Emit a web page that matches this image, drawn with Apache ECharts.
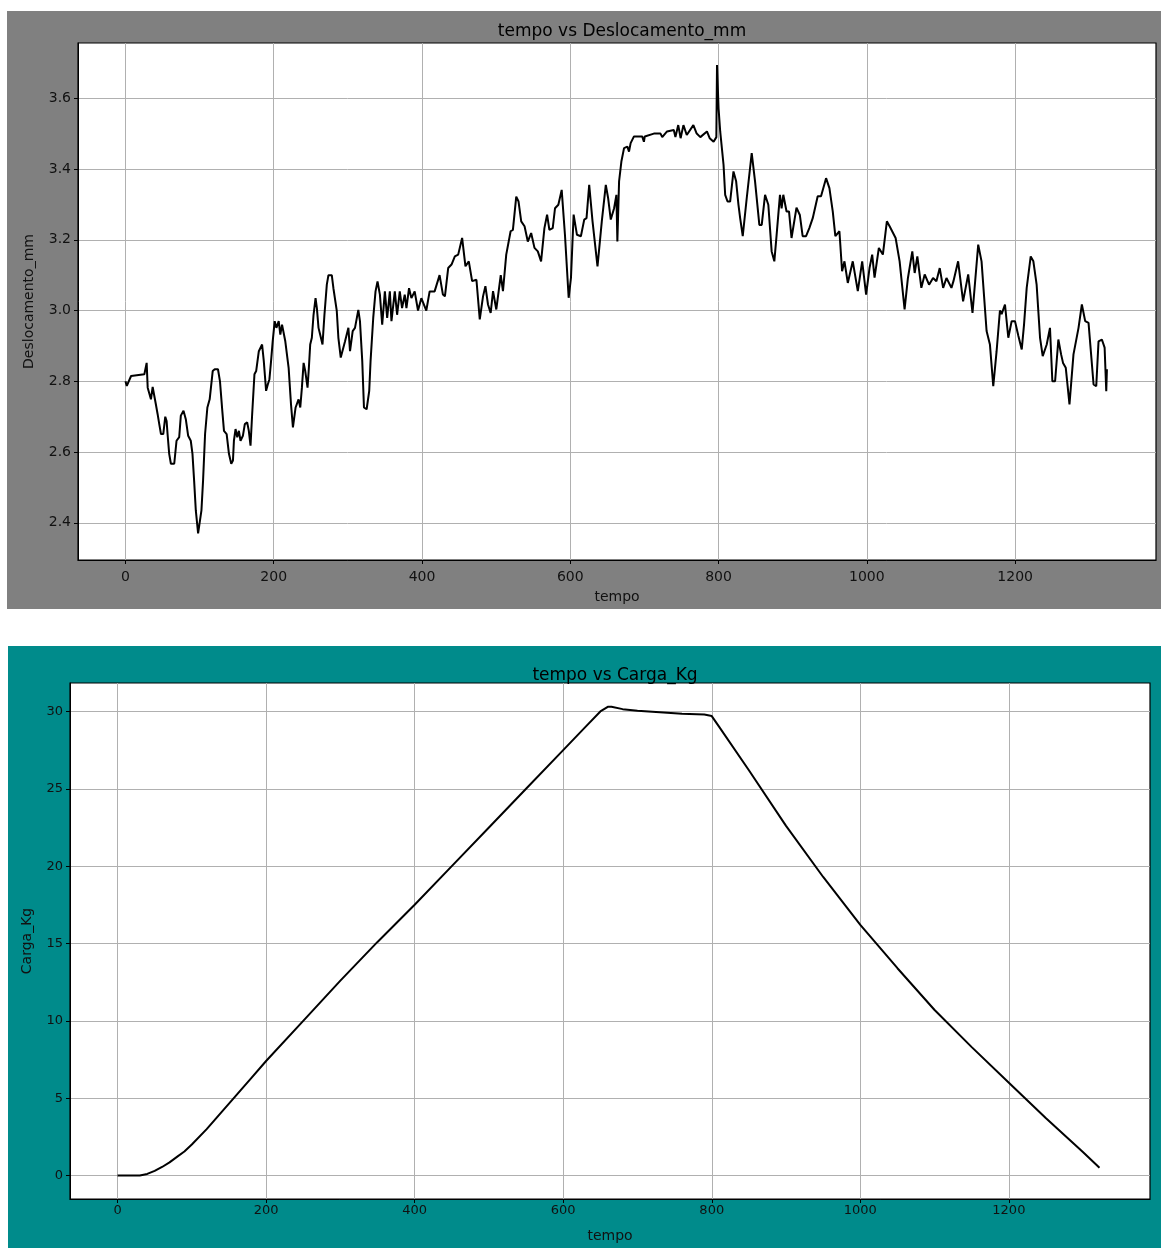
<!DOCTYPE html>
<html>
<head>
<meta charset="utf-8">
<script src="https://cdn.jsdelivr.net/npm/echarts@6/dist/echarts.min.js"></script>
<style>
  body { margin: 0; background: #fff; width: 1161px; height: 1248px; position: relative; overflow: hidden; }
  #deslocChart { position: absolute; left: 7px; top: 11px; width: 1154px; height: 598px; }
  #cargaChart { position: absolute; left: 8px; top: 646px; width: 1153px; height: 602px; }
</style>
</head>
<body>
<div id="deslocChart"></div>
<div id="cargaChart"></div>
<script>
// tempo vs Deslocamento_mm
const deslocTempo = [0, 1.8, 7.6, 25.5, 28.6, 30, 32, 34.4, 36.7, 41, 43.4, 45.6, 47.9, 51, 53.7, 55.5, 56.8, 59, 61.3, 65.8,
  68.9, 72.5, 74.7, 78.3, 81.4, 84.6, 88.1, 90.4, 92.6, 94.9, 98, 99.3, 102.5, 104.7, 107.4, 110.5, 113.6, 115.9, 117.7, 120.4,
  124.8, 127.5, 130.6, 132.9, 136.5, 139.6, 142.7, 145, 146.3, 148.5, 150.8, 153, 155.2, 158.4, 161, 164.2, 166.4, 168.7, 170.9, 174,
  176.3, 179.9, 184.3, 186.6, 189.7, 191.9, 194.2, 196.4, 198.6, 201.3, 203.6, 206.7, 208.9, 211.2, 215.6, 220.1, 223.3, 225.9, 229.5, 233.5,
  235.8, 238, 240.3, 242.5, 245.6, 247.4, 249.2, 251.4, 253.7, 256.4, 258.2, 260.4, 262.6, 265.8, 268.4, 271.6, 273.8, 278.3, 280.5, 285,
  287.2, 290.4, 292.6, 296.2, 300.7, 302.9, 306.5, 309.6, 314.1, 316.3, 319.4, 321.7, 325.3, 328.8, 330.6, 334.2, 337.3, 340, 343.2, 346.3,
  349.9, 353, 356.6, 358.8, 363.3, 366.4, 370, 373.1, 376.7, 379, 382.5, 385.7, 390.1, 394.6, 399.1, 405.8, 410.3, 417, 423.7, 428.2,
  430.9, 435.3, 439.8, 444.3, 448.8, 454.1, 458.6, 463.1, 467.6, 473.4, 477.9, 482.3, 485.5, 489, 492.6, 495.8, 500.2, 506.2, 509.2, 513.6,
  519.5, 522.6, 527.1, 530.2, 533.8, 538.3, 542.7, 547.2, 551.7, 556.2, 560.6, 565.1, 568.7, 571.8, 576.3, 579.4, 583.9, 588.4, 592.8, 597.8,
  600.9, 604.5, 609, 614.3, 618.8, 621.9, 625.5, 630, 636.7, 642.5, 647.9, 651, 654.6, 659.1, 662.2, 663.5, 665.8, 668.9, 672.5, 677,
  679.2, 681.4, 685.9, 697, 699.3, 700.5, 712.7, 721.7, 724, 730.5, 739.6, 741.8, 745.6, 748.8, 752.6, 757.1, 766, 770.5, 775.4, 784.3,
  788, 793.3, 797, 797.9, 800, 802.2, 806.7, 808.9, 812.1, 815.6, 820.1, 823.7, 826.8, 829.1, 832.6, 838, 844.7, 849.2, 855, 858.2,
  862.7, 867.1, 871.6, 875.2, 878.3, 882.8, 885, 887.3, 891.7, 895, 898.4, 905.1, 909.6, 913.4, 918, 922.4, 927, 933.7, 938.2, 945,
  949.5, 954, 957.5, 963, 966.6, 969.8, 974.3, 981, 987.8, 993.7, 999, 1003.6, 1007.2, 1010.4, 1016.2, 1021.6, 1027, 1030.7, 1038.8, 1044.2,
  1050.9, 1055.4, 1061.3, 1064.5, 1068.1, 1073.5, 1078, 1083.9, 1089.3, 1093.8, 1098.3, 1102.9, 1107.4, 1114.1, 1116.8, 1123.1, 1129.8, 1136.7, 1142.5, 1150.2,
  1154.7, 1161.5, 1166, 1170.5, 1175, 1179.5, 1181.8, 1186.3, 1190.8, 1195.3, 1199.8, 1204.4, 1208.9, 1212, 1215.6, 1221, 1224.6, 1229, 1233.6, 1237.2,
  1242.6, 1247, 1250.2, 1253.9, 1258.3, 1262, 1264.6, 1268.3, 1273.3, 1278.7, 1285.5, 1290, 1294.5, 1299, 1305.8, 1309.4, 1312.5, 1317, 1320.7, 1322.9,
  1323.8];
const deslocMM = [2.80, 2.787, 2.815, 2.82, 2.852, 2.782, 2.787, 2.749, 2.784, 2.735, 2.707, 2.679, 2.651, 2.651, 2.70, 2.688, 2.651, 2.595, 2.567, 2.567,
  2.632, 2.642, 2.703, 2.717, 2.693, 2.646, 2.632, 2.595, 2.52, 2.435, 2.37, 2.365, 2.435, 2.52, 2.651, 2.726, 2.749, 2.749, 2.829, 2.834,
  2.834, 2.80, 2.717, 2.66, 2.651, 2.595, 2.567, 2.576, 2.632, 2.665, 2.642, 2.66, 2.632, 2.646, 2.679, 2.684, 2.66, 2.618, 2.707, 2.82,
  2.829, 2.885, 2.904, 2.857, 2.773, 2.79, 2.806, 2.857, 2.913, 2.97, 2.951, 2.97, 2.932, 2.96, 2.913, 2.838, 2.735, 2.67, 2.726, 2.749,
  2.726, 2.782, 2.852, 2.829, 2.782, 2.838, 2.904, 2.923, 2.988, 3.035, 3.007, 2.951, 2.932, 2.904, 2.988, 3.073, 3.10, 3.10, 3.063, 3.0,
  2.923, 2.867, 2.871, 2.913, 2.951, 2.885, 2.942, 2.951, 3.002, 2.97, 2.857, 2.726, 2.721, 2.773, 2.857, 2.979, 3.054, 3.082, 3.045, 2.96,
  3.054, 2.979, 3.054, 2.97, 3.054, 2.988, 3.054, 3.007, 3.045, 3.007, 3.063, 3.035, 3.054, 3.0, 3.035, 3.0, 3.054, 3.054, 3.10, 3.045,
  3.04, 3.12, 3.13, 3.153, 3.158, 3.205, 3.125, 3.139, 3.083, 3.087, 2.975, 3.04, 3.069, 3.017, 2.993, 3.055, 3.003, 3.10, 3.055, 3.158,
  3.224, 3.228, 3.322, 3.308, 3.252, 3.238, 3.195, 3.219, 3.177, 3.167, 3.139, 3.233, 3.271, 3.228, 3.233, 3.289, 3.299, 3.341, 3.214, 3.036,
  3.092, 3.271, 3.214, 3.21, 3.257, 3.261, 3.355, 3.252, 3.125, 3.252, 3.355, 3.318, 3.257, 3.289, 3.327, 3.195, 3.365, 3.421, 3.459, 3.463,
  3.449, 3.473, 3.492, 3.492, 3.477, 3.492, 3.50, 3.50, 3.49, 3.506, 3.51, 3.49, 3.524, 3.487, 3.524, 3.496, 3.524, 3.50, 3.49, 3.506,
  3.487, 3.477, 3.49, 3.694, 3.571, 3.506, 3.412, 3.327, 3.308, 3.308, 3.393, 3.365, 3.299, 3.261, 3.21, 3.318, 3.445, 3.365, 3.242, 3.242,
  3.327, 3.299, 3.167, 3.139, 3.214, 3.327, 3.289, 3.327, 3.28, 3.28, 3.205, 3.291, 3.27, 3.21, 3.21, 3.233, 3.261, 3.323, 3.323, 3.374,
  3.346, 3.28, 3.21, 3.224, 3.111, 3.139, 3.078, 3.139, 3.055, 3.139, 3.045, 3.12, 3.158, 3.093, 3.177, 3.158, 3.252, 3.238, 3.205, 3.139,
  3.003, 3.092, 3.167, 3.106, 3.153, 3.064, 3.102, 3.073, 3.092, 3.083, 3.12, 3.064, 3.092, 3.064, 3.083, 3.139, 3.026, 3.102, 2.993, 3.186,
  3.139, 2.942, 2.904, 2.786, 2.885, 3.0, 2.99, 3.017, 2.923, 2.97, 2.97, 2.928, 2.89, 2.96, 3.064, 3.153, 3.139, 3.073, 2.923, 2.871,
  2.904, 2.951, 2.80, 2.80, 2.918, 2.876, 2.852, 2.838, 2.735, 2.876, 2.951, 3.017, 2.97, 2.965, 2.791, 2.786, 2.913, 2.918, 2.895, 2.772,
  2.834];

// tempo vs Carga_Kg
const cargaTempo = [0, 10, 20, 30, 40, 50, 60, 70, 80, 90, 100, 120, 140, 160, 180, 200, 250, 300, 350, 400,
  450, 500, 550, 600, 630, 650, 660, 665, 680, 700, 730, 760, 790, 800, 810, 850, 900, 950, 1000, 1050,
  1100, 1150, 1200, 1250, 1300, 1322];
const cargaKg = [0, 0, 0, 0, 0.1, 0.3, 0.55, 0.85, 1.2, 1.55, 2.0, 3.0, 4.1, 5.2, 6.3, 7.4, 10.0, 12.6, 15.1, 17.5,
  20.0, 22.5, 25.0, 27.5, 29.0, 30.0, 30.3, 30.3, 30.15, 30.05, 29.95, 29.85, 29.8, 29.7, 29.0, 26.2, 22.6, 19.3, 16.2, 13.4,
  10.7, 8.3, 6.0, 3.7, 1.5, 0.5];

const xTicks = [0, 200, 400, 600, 800, 1000, 1200];
const deslocTicks = [2.4, 2.6, 2.8, 3.0, 3.2, 3.4, 3.6];
const cargaTicks = [0, 5, 10, 15, 20, 25, 30];

const font = 'DejaVu Sans';

function makeOption(cfg) {
  return {
    backgroundColor: cfg.bg,
    animation: false,
    title: {
      text: cfg.title,
      left: cfg.titleX,
      top: cfg.titleTop,
      textAlign: 'center',
      textStyle: { fontFamily: font, fontSize: 17, fontWeight: 'normal', color: '#000' }
    },
    grid: Object.assign({
      show: true,
      backgroundColor: '#fff',
      borderColor: '#000',
      borderWidth: 1.2
    }, cfg.grid),
    xAxis: {
      type: 'value',
      min: -64,
      max: 1390,
      name: 'tempo',
      nameLocation: 'middle',
      nameGap: cfg.xNameGap,
      nameTextStyle: { fontFamily: font, fontSize: 14, color: '#111' },
      axisLine: { show: true, onZero: false, lineStyle: { color: '#000' } },
      axisTick: { show: true, length: 4, customValues: xTicks, lineStyle: { color: '#000' } },
      axisLabel: {
        customValues: xTicks, margin: cfg.xLabelMargin, fontFamily: font, fontSize: cfg.tickSize, color: '#111',
        formatter: v => String(v)
      },
      splitLine: { show: true, lineStyle: { color: '#b0b0b0', width: 1 } }
    },
    yAxis: {
      type: 'value',
      min: cfg.yMin,
      max: cfg.yMax,
      name: cfg.yName,
      nameLocation: 'middle',
      nameGap: cfg.yNameGap,
      nameTextStyle: { fontFamily: font, fontSize: 14, color: '#111' },
      axisLine: { show: true, onZero: false, lineStyle: { color: '#000' } },
      axisTick: { show: true, length: 4, customValues: cfg.yTicks, lineStyle: { color: '#000' } },
      axisLabel: {
        customValues: cfg.yTicks, margin: 7, fontFamily: font, fontSize: cfg.tickSize, color: '#111',
        formatter: cfg.yFmt
      },
      splitLine: { show: true, lineStyle: { color: '#b0b0b0', width: 1 } }
    },
    series: [{
      type: 'line',
      data: cfg.xs.map((t, i) => [t, cfg.ys[i]]),
      showSymbol: false,
      lineStyle: { color: '#000', width: 2 },
      silent: true
    }]
  };
}

echarts.init(document.getElementById('deslocChart')).setOption(makeOption({
  bg: '#808080',
  title: 'tempo vs Deslocamento_mm',
  titleX: 610,
  titleTop: 7,
  grid: { left: 71, top: 32, right: 5, bottom: 46 },
  xNameGap: 30,
  xLabelMargin: 10,
  tickSize: 14,
  yMin: 2.295,
  yMax: 3.756,
  yName: 'Deslocamento_mm',
  yNameGap: 42,
  yTicks: deslocTicks,
  yFmt: v => v.toFixed(1),
  xs: deslocTempo,
  ys: deslocMM
}));

echarts.init(document.getElementById('cargaChart')).setOption(makeOption({
  bg: '#008b8b',
  title: 'tempo vs Carga_Kg',
  titleX: 602,
  titleTop: 16,
  grid: { left: 62, top: 37, right: 11, bottom: 45 },
  xNameGap: 30,
  xLabelMargin: 5,
  tickSize: 13,
  yMin: -1.52,
  yMax: 31.84,
  yName: 'Carga_Kg',
  yNameGap: 36,
  yTicks: cargaTicks,
  yFmt: v => String(v),
  xs: cargaTempo,
  ys: cargaKg
}));
</script>
</body>
</html>
